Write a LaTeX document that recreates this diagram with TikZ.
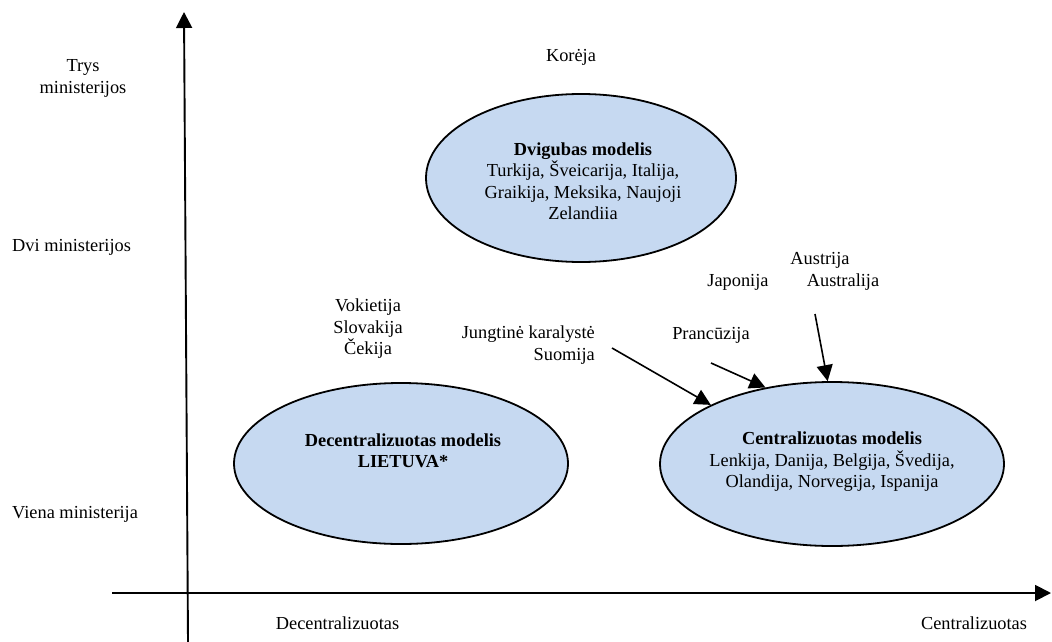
\documentclass[tikz,border=0pt]{standalone}
\usepackage{fontspec}
\setmainfont{Liberation Serif}
\usetikzlibrary{arrows.meta,shapes.geometric}
\definecolor{ellfill}{RGB}{198,217,241}
\begin{document}
\begin{tikzpicture}[x=1pt,y=-1pt,
  every node/.style={font=\fontsize{18.35}{21.5}\selectfont, inner sep=0pt},
  lbl/.style={align=center},
  model/.style={ellipse, draw=black, line width=1.8pt, fill=ellfill, inner sep=0pt},
  axisline/.style={line width=1.9pt, -{Triangle[length=16pt,width=16pt]}},
  pointer/.style={line width=1.6pt, -{Triangle[length=16pt,width=16pt]}}]
\useasboundingbox (0,0) rectangle (1052,642);

% axes
\coordinate (ybot) at (188,642);
\coordinate (ytop) at (184,12);
\coordinate (xleft) at (112,593);
\coordinate (xright) at (1051,593);
\draw[axisline] (ybot) -- (ytop);
\draw[axisline] (xleft) -- (xright);

% axis labels
\node[lbl] (trys) at (83,78.5) {Trys\\ministerijos};
\node[anchor=west] (dvi) at (12,247) {Dvi ministerijos};
\node[anchor=west] (viena) at (12,514) {Viena ministerija};
\node (decx) at (337.5,623) {Decentralizuotas};
\node (cenx) at (974,623) {Centralizuotas};

% model ellipses
\node[model, minimum width=310pt, minimum height=168pt] (dual) at (581,178) {};
\node[model, minimum width=334pt, minimum height=161pt] (dec) at (401,463.5) {};
\node[model, minimum width=344pt, minimum height=164pt] (cen) at (832,464) {};

\node[lbl] (dualtxt) at (583,181) {\textbf{Dvigubas modelis}\\Turkija, Šveicarija, Italija,\\Graikija, Meksika, Naujoji\\Zelandiia};
\node[lbl, font=\fontsize{18.35}{21.5}\selectfont\bfseries] (dectxt) at (403,451) {Decentralizuotas modelis\\LIETUVA*};
\node[lbl] (centxt) at (832,462) {\textbf{Centralizuotas modelis}\\Lenkija, Danija, Belgija, Švedija,\\Olandija, Norvegija, Ispanija};

% country labels
\node (koreja) at (571,57) {Korėja};
\node[lbl] (vok) at (368,329) {Vokietija\\Slovakija\\Čekija};
\node[align=right, anchor=east] (jk) at (595,345) {Jungtinė karalystė\\Suomija};
\node (pran) at (711,335) {Prancūzija};
\node (jap) at (738,282) {Japonija};
\node (austrija) at (820,260) {Austrija};
\node (australija) at (843,282) {Australija};

% pointers
\coordinate (p1) at (612,348);
\coordinate (p2) at (711,363);
\coordinate (p3) at (815,314);
\draw[pointer] (p1) -- (cen.154.6);
\draw[pointer] (p2) -- (cen.131);
\draw[pointer] (p3) -- (cen.93.5);
\end{tikzpicture}
\end{document}
